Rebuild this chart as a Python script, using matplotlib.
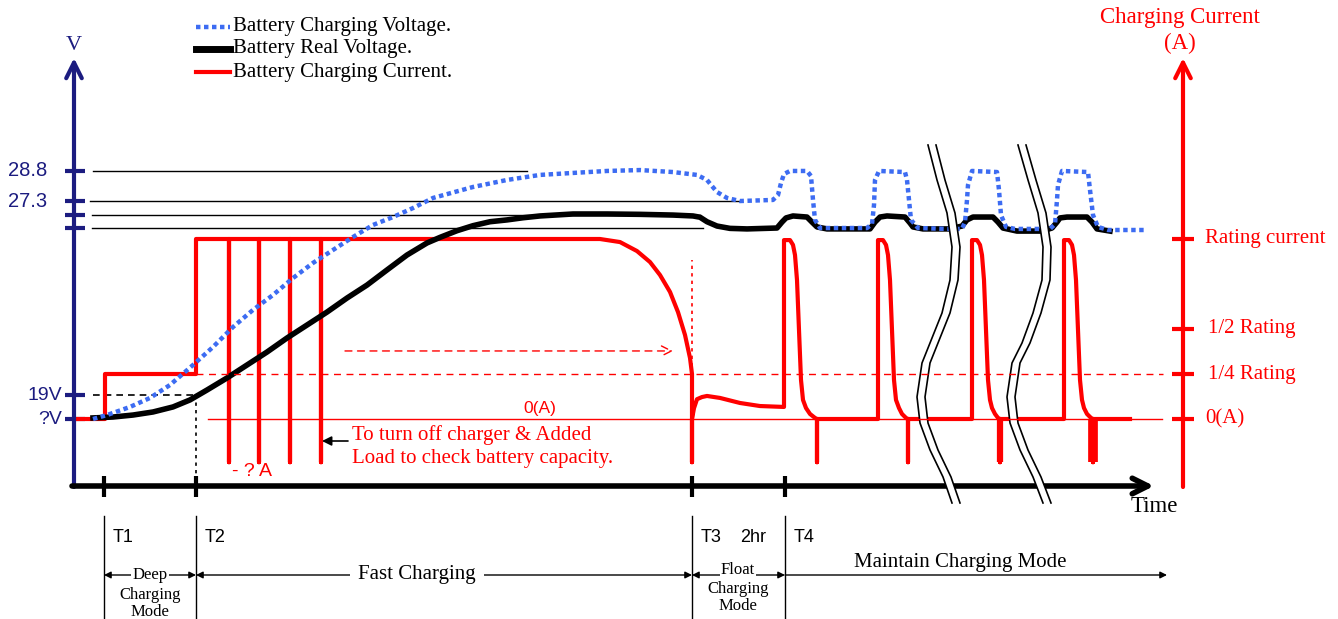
import matplotlib.pyplot as plt
import matplotlib.transforms as mtransforms

# ---------------- data ----------------
# x = position along the time axis, y = level (1 = rating current, 0 = 0 A)
cur_t = [74, 105, 105, 196, 196, 229, 229, 229, 259, 259, 259, 290, 290, 290, 321, 321, 321,
         580, 600, 620, 637, 650, 660, 670, 678, 685, 690, 692, 692, 692, 694, 697, 702, 707, 720, 740, 760, 784,
         784, 790, 793, 795, 797, 799, 801, 803, 806, 810, 815, 817, 817, 817,
         878, 878, 883, 886, 888, 890, 892, 894, 896, 899, 902, 906, 908, 908, 908,
         972, 972, 977, 980, 982, 984, 986, 988, 990, 992, 995, 998, 1000, 1000, 1000,
         1064, 1064, 1069, 1072, 1074, 1076, 1078, 1080, 1082, 1084, 1087, 1091, 1093, 1093, 1093, 1130]
cur_lvl = [0, 0, 0.25, 0.25, 1.0, 1.0, -0.24, 1.0, 1.0, -0.24, 1.0, 1.0, -0.24, 1.0, 1.0, -0.24, 1.0,
           1.0, 1.0, 0.983, 0.933, 0.872, 0.8, 0.706, 0.594, 0.467, 0.339, 0.25, -0.24, 0.0, 0.06, 0.11,
           0.122, 0.128, 0.117, 0.089, 0.072, 0.067,
           0.994, 0.994, 0.967, 0.911, 0.772, 0.494, 0.217, 0.106, 0.061, 0.028, 0.006, 0, -0.24, 0,
           0, 0.994, 0.994, 0.967, 0.911, 0.772, 0.494, 0.217, 0.106, 0.061, 0.028, 0.006, 0, -0.24, 0,
           0, 0.994, 0.994, 0.967, 0.911, 0.772, 0.494, 0.217, 0.106, 0.061, 0.028, 0.006, 0, -0.24, 0,
           0, 0.994, 0.994, 0.967, 0.911, 0.772, 0.494, 0.217, 0.106, 0.061, 0.028, 0.006, 0, -0.24, 0, 0]
heavy_spike_t = [1000, 1093]
heavy_spike_w = [4.5, 7]

vchg_t = [93, 107, 130, 150, 170, 193, 213, 233, 253, 273, 293, 313, 333, 353, 373, 393, 413, 433,
          473, 507, 540, 573, 607, 640, 673, 697, 707, 712, 717, 727, 740, 773, 778, 781, 784, 790, 807,
          811, 813, 815, 820, 867, 872, 874, 875, 879, 905, 907, 909, 911, 918, 948, 962, 965, 967,
          968, 972, 997, 999, 1001, 1006, 1015, 1050, 1055, 1057, 1058, 1062, 1088, 1090, 1093,
          1098, 1108, 1147]
vchg_lvl = [0, 0.022, 0.067, 0.117, 0.189, 0.3, 0.4, 0.511, 0.606, 0.689, 0.783, 0.867, 0.939, 1.011,
            1.078, 1.122, 1.172, 1.228, 1.289, 1.328, 1.356, 1.367, 1.378, 1.383, 1.372, 1.356,
            1.328, 1.294, 1.261, 1.228, 1.211, 1.217, 1.244, 1.311, 1.361, 1.378, 1.378,
            1.35, 1.217, 1.106, 1.061, 1.061, 1.083, 1.189, 1.328, 1.378, 1.372, 1.328, 1.217,
            1.106, 1.061, 1.056, 1.056, 1.094, 1.217, 1.3, 1.378, 1.372, 1.272, 1.133, 1.067,
            1.056, 1.056, 1.083, 1.217, 1.3, 1.378, 1.372, 1.272, 1.133, 1.067, 1.05, 1.05]

vreal_t = [93, 113, 133, 153, 173, 190, 207, 227, 247, 267, 287, 307, 327, 347, 367, 387, 407, 427,
           440, 457, 473, 490, 507, 523, 540, 573, 607, 640, 673, 693, 700, 707, 717, 730, 747,
           777, 782, 786, 793, 807, 812, 817, 827, 870, 875, 880, 887, 905, 910, 913,
           923, 950, 962, 967, 973, 993, 998, 1003, 1017, 1042, 1052, 1057, 1060, 1067, 1087, 1092,
           1097, 1110]
vreal_lvl = [0.006, 0.011, 0.022, 0.039, 0.067, 0.106, 0.161, 0.228, 0.3, 0.372, 0.45, 0.522, 0.594,
             0.672, 0.744, 0.828, 0.911, 0.978, 1.009, 1.046, 1.074, 1.096, 1.106, 1.118, 1.128,
             1.139, 1.139, 1.137, 1.133, 1.128, 1.121, 1.096, 1.072, 1.059, 1.056,
             1.061, 1.094, 1.117, 1.128, 1.122, 1.094, 1.067, 1.056, 1.056, 1.094, 1.122, 1.128,
             1.122, 1.089, 1.067, 1.056, 1.056, 1.072, 1.106, 1.122, 1.122, 1.094, 1.061, 1.044,
             1.044, 1.061, 1.094, 1.117, 1.122, 1.122, 1.094, 1.056, 1.044]

# voltage axis ticks and reference lines
v_tick_lvl = [1.378, 1.211, 1.133, 1.061, 0.133, 0.0]
v_tick_lab = ['28.8', '27.3', '', '', '19V', '?V']
v_ref_lvl = [1.378, 1.211, 1.133, 1.061]
v_ref_start = [93, 90, 92, 92]
v_ref_end = [527, 740, 700, 703]

# current axis ticks
i_tick_lvl = [1.0, 0.5, 0.25, 0.0]
i_tick_lab = ['Rating current', '1/2 Rating', '1/4 Rating', '0(A)']

# stage boundaries on the time axis
stage_t = [104, 196, 692, 785]
stage_lab = ['T1', 'T2', 'T3', 'T4']

# axis break marks
break1_x = [928, 937, 947, 952, 950, 942, 930, 922, 917, 920, 930, 943, 952]
break2_x = [1018, 1028, 1038, 1043, 1042, 1033, 1022, 1012, 1007, 1010, 1020, 1033, 1043]
break_y = [145, 180, 213, 247, 280, 313, 343, 363, 397, 423, 450, 477, 503]

# ---------------- drawing ----------------
NAVY = '#1c1c80'
RED = '#ff0000'
BLUE = '#3d6cf2'
SERIF = 'Liberation Serif'
SANS = 'Liberation Sans'

fig = plt.figure(figsize=(13.38, 6.19), dpi=100)
ax = fig.add_axes([0, 0, 1, 1])
ax.set_xlim(0, 1338)
ax.set_ylim(619, 0)
ax.axis('off')

# level -> canvas: 0 A at 419, rating current at 239
lvl = mtransforms.Affine2D().scale(1, -180).translate(0, 419) + ax.transData

# axes
ax.annotate('', xy=(74, 58), xytext=(74, 487),
            arrowprops=dict(arrowstyle='->', lw=3, color=NAVY, mutation_scale=28, shrinkA=0, shrinkB=0))
ax.annotate('', xy=(1154, 486), xytext=(72, 486),
            arrowprops=dict(arrowstyle='->', lw=4, color='black', mutation_scale=28, shrinkA=0, shrinkB=0))
ax.annotate('', xy=(1183, 58), xytext=(1183, 487),
            arrowprops=dict(arrowstyle='->', lw=3, color=RED, mutation_scale=28, shrinkA=0, shrinkB=0))
ax.text(74, 45, 'V', color=NAVY, family=SERIF, fontsize=16, ha='center', va='center')
ax.text(1180, 18, 'Charging Current', color=RED, family=SERIF, fontsize=16.5, ha='center', va='center')
ax.text(1180, 43, '(A)', color=RED, family=SERIF, fontsize=16.5, ha='center', va='center')
ax.text(1154, 507, 'Time', color='black', family=SERIF, fontsize=16.5, ha='center', va='center')

for t in stage_t:
    ax.plot([t, t], [476, 497], color='black', lw=3, solid_capstyle='butt')

# voltage ticks
for y, lab in zip(v_tick_lvl, v_tick_lab):
    ax.plot([65, 85], [y, y], color=NAVY, lw=3, transform=lvl, solid_capstyle='butt')
    if lab in ('28.8', '27.3'):
        ax.text(47, y, lab, color=NAVY, family=SANS, fontsize=14.5, ha='right', va='center', transform=lvl)
    elif lab:
        ax.text(62, y, lab, color=NAVY, family=SANS, fontsize=14, ha='right', va='center', transform=lvl)

# current ticks
for y, lab in zip(i_tick_lvl, i_tick_lab):
    ax.plot([1172, 1194], [y, y], color=RED, lw=3, transform=lvl, solid_capstyle='butt')
    ax.text(1205 if lab in ('Rating current', '0(A)') else 1208, y, lab, color=RED, family=SERIF,
            fontsize=15, ha='left', va='center', transform=lvl)

# reference lines
for y, x0, x1 in zip(v_ref_lvl, v_ref_start, v_ref_end):
    ax.plot([x0, x1], [y, y], color='black', lw=1, transform=lvl, zorder=2)
ax.plot([93, 196], [v_tick_lvl[4]] * 2, color='black', lw=1.2, ls=(0, (4, 3)), transform=lvl)
ax.plot([196, 196], [v_tick_lvl[4], -0.37], color='black', lw=1.2, ls=(0, (2, 2.5)), transform=lvl)
ax.plot([196, 1163], [0.25, 0.25], color=RED, lw=1, ls=(0, (5, 4)), transform=lvl, zorder=3.7)
ax.plot([208, 1162], [0, 0], color=RED, lw=1, transform=lvl, zorder=3.7)
ax.plot([692, 692], [0.25, 0.883], color=RED, lw=1.2, ls=(0, (2, 2.5)), transform=lvl, zorder=3.7)
ax.annotate('', xy=(673, 0.378), xytext=(345, 0.378), xycoords=lvl, textcoords=lvl,
            arrowprops=dict(arrowstyle='->', lw=1, ls=(0, (5, 4)), color=RED, mutation_scale=18,
                            shrinkA=0, shrinkB=0))

# curves
ax.plot(cur_t, cur_lvl, color=RED, lw=3, transform=lvl, zorder=2.5, solid_joinstyle='round')
for t, w in zip(heavy_spike_t, heavy_spike_w):
    ax.plot([t, t], [0, -0.24], color=RED, lw=w, transform=lvl, zorder=2.5, solid_capstyle='butt')
ax.plot(vreal_t, vreal_lvl, color='black', lw=4, transform=lvl, zorder=3, solid_joinstyle='round')
ax.plot(vchg_t, vchg_lvl, color=BLUE, lw=3.2, ls=(0, (1.0, 0.8)), transform=lvl, zorder=3.2)

# break marks
for bx in (break1_x, break2_x):
    bx2 = [x + 8 for x in bx]
    ax.fill(bx + bx2[::-1], break_y + break_y[::-1], color='white', zorder=3.5, lw=0)
    ax.plot(bx, break_y, color='black', lw=1.2, zorder=3.6)
    ax.plot(bx2, break_y, color='black', lw=1.2, zorder=3.6)

# labels in the chart
ax.text(540, 0.06, '0(A)', color=RED, family=SANS, fontsize=12.5, ha='center', va='center', transform=lvl)
ax.text(232, 472, '- ? A', color=RED, family=SANS, fontsize=14, ha='left', va='center')
ax.text(352, 435, 'To turn off charger & Added', color=RED, family=SERIF, fontsize=15, ha='left', va='center')
ax.text(352, 458, 'Load to check battery capacity.', color=RED, family=SERIF, fontsize=15, ha='left', va='center')
ax.annotate('', xy=(322, 441), xytext=(348, 441),
            arrowprops=dict(arrowstyle='-|>', lw=1.2, color='black', mutation_scale=14, shrinkA=0, shrinkB=0))

# legend
ax.plot([196, 230], [27, 27], color=BLUE, lw=3.2, ls=(0, (1.0, 0.8)))
ax.plot([196, 230], [49, 49], color='black', lw=5)
ax.plot([196, 230], [72, 72], color=RED, lw=3)
for y, lab in zip([27, 49, 72], ['Battery Charging Voltage.', 'Battery Real Voltage.', 'Battery Charging Current.']):
    ax.text(233, y, lab, color='black', family=SERIF, fontsize=15, ha='left', va='center')

# stage row below the chart
for t, lab in zip(stage_t, stage_lab):
    ax.plot([t, t], [516, 619], color='black', lw=1)
    ax.text(t + 9, 537, lab, color='black', family=SANS, fontsize=13, ha='left', va='center')
ax.text(740, 537, '2hr', color='black', family=SANS, fontsize=13, ha='left', va='center')

arr = dict(arrowstyle='<|-|>', lw=1, color='black', mutation_scale=10, shrinkA=0, shrinkB=0)
ax.annotate('', xy=(196, 575), xytext=(104, 575), arrowprops=arr)
ax.annotate('', xy=(692, 575), xytext=(196, 575), arrowprops=arr)
ax.annotate('', xy=(785, 575), xytext=(692, 575), arrowprops=arr)
ax.annotate('', xy=(1167, 575), xytext=(785, 575),
            arrowprops=dict(arrowstyle='-|>', lw=1, color='black', mutation_scale=10, shrinkA=0, shrinkB=0))
wb = dict(facecolor='white', edgecolor='none', pad=1)
ax.text(150, 575, 'Deep', family=SERIF, fontsize=12, ha='center', va='center', bbox=wb)
ax.text(150, 595, 'Charging', family=SERIF, fontsize=12, ha='center', va='center')
ax.text(150, 612, 'Mode', family=SERIF, fontsize=12, ha='center', va='center')
ax.text(417, 575, 'Fast Charging', family=SERIF, fontsize=15, ha='center', va='center',
        bbox=dict(facecolor='white', edgecolor='none', pad=6))
ax.text(738, 570, 'Float', family=SERIF, fontsize=12, ha='center', va='center', bbox=wb)
ax.text(738, 589, 'Charging', family=SERIF, fontsize=12, ha='center', va='center')
ax.text(738, 606, 'Mode', family=SERIF, fontsize=12, ha='center', va='center')
ax.text(960, 563, 'Maintain Charging Mode', family=SERIF, fontsize=15, ha='center', va='center')

fig.savefig('out.png', dpi=100)
